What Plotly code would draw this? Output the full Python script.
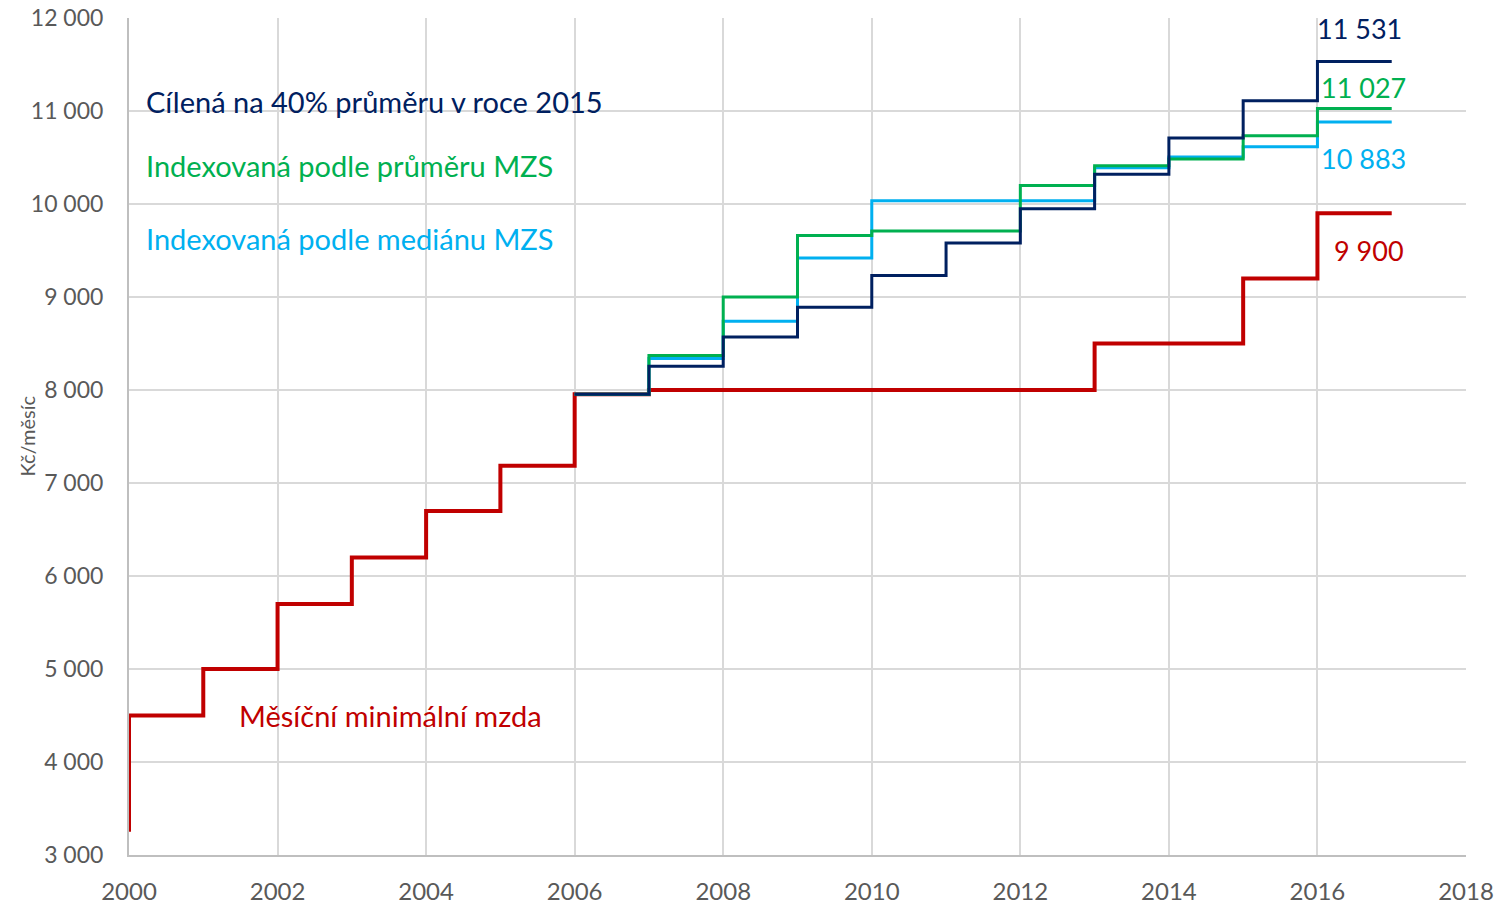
import plotly.graph_objects as go

# Data
years_min = [2000, 2000, 2001, 2002, 2003, 2004, 2005, 2006, 2007, 2008, 2009, 2010,
             2011, 2012, 2013, 2014, 2015, 2016, 2017]
min_wage = [3250, 4500, 5000, 5700, 6200, 6700, 7185, 7955, 8000, 8000, 8000, 8000,
            8000, 8000, 8500, 8500, 9200, 9900, 9900]

years_alt = [2006, 2007, 2008, 2009, 2010, 2011, 2012, 2013, 2014, 2015, 2016, 2017]
targeted_40 = [7955, 8255, 8570, 8890, 9230, 9580, 9950, 10320, 10710, 11110, 11531, 11531]
indexed_avg = [7955, 8370, 9000, 9660, 9710, 9710, 10200, 10410, 10485, 10735, 11027, 11027]
indexed_med = [7955, 8340, 8740, 9420, 10035, 10035, 10035, 10390, 10505, 10615, 10883, 10883]

NAVY = "#002060"
GREEN = "#00B050"
BLUE = "#00B0F0"
RED = "#C00000"
FONT = "Lato"

fig = go.Figure()
fig.add_trace(go.Scatter(x=years_min, y=min_wage, mode="lines", line=dict(color=RED, width=4, shape="hv"),
                         name="Měsíční minimální mzda"))
fig.add_trace(go.Scatter(x=years_alt, y=indexed_med, mode="lines", line=dict(color=BLUE, width=3, shape="hv"),
                         name="Indexovaná podle mediánu MZS"))
fig.add_trace(go.Scatter(x=years_alt, y=indexed_avg, mode="lines", line=dict(color=GREEN, width=3, shape="hv"),
                         name="Indexovaná podle průměru MZS"))
fig.add_trace(go.Scatter(x=years_alt, y=targeted_40, mode="lines", line=dict(color=NAVY, width=3, shape="hv"),
                         name="Cílená na 40% průměru v roce 2015"))

def ann(x, y, text, color, anchor="left", size=29):
    fig.add_annotation(x=x, y=y, xref="x", yref="y", text=text, showarrow=False,
                       xanchor=anchor, yanchor="middle", font=dict(family=FONT, size=size, color=color))

ann(2000.20, 11097, "Cílená na 40% průměru v roce 2015", NAVY)
ann(2000.20, 10409, "Indexovaná podle průměru MZS", GREEN)
ann(2000.20, 9624, "Indexovaná podle mediánu MZS", BLUE)
ann(2001.46, 4495, "Měsíční minimální mzda", RED)

ann(2016.57, 11882, "11 531", NAVY, anchor="center", size=27)
ann(2016.62, 11258, "11 027", GREEN, anchor="center", size=27)
ann(2016.62, 10484, "10 883", BLUE, anchor="center", size=27)
ann(2016.70, 9505, "9 900", RED, anchor="center", size=27)

fig.add_annotation(xref="paper", yref="paper", x=(26 - 129) / 1337, y=0.5, text="Kč/měsíc",
                   textangle=-90, showarrow=False, xanchor="center", yanchor="middle",
                   font=dict(family=FONT, size=20, color="#595959"))

fig.update_layout(
    width=1507, height=906,
    margin=dict(l=129, r=41, t=18, b=51, autoexpand=False),
    plot_bgcolor="white", paper_bgcolor="white",
    showlegend=False,
    separators=". ",
    font=dict(family=FONT, color="#595959"),
)
fig.update_xaxes(range=[2000, 2018], dtick=2, tick0=2000, showgrid=True, gridcolor="#d9d9d9", gridwidth=2,
                 showline=True, linecolor="#bfbfbf", linewidth=2, zeroline=False, automargin=False,
                 ticklabeloverflow="allow",
                 tickfont=dict(size=24, color="#595959"), ticks="", ticklabelstandoff=14)
fig.update_yaxes(range=[3000, 12000], dtick=1000, tick0=3000, showgrid=True, gridcolor="#d9d9d9", gridwidth=2,
                 showline=True, linecolor="#bfbfbf", linewidth=2, zeroline=False, tickformat=",d",
                 automargin=False, ticklabeloverflow="allow",
                 tickfont=dict(size=23, color="#595959"), ticks="", ticklabelstandoff=19)

fig.write_html("out.html", config={"displayModeBar": False},
               post_script="document.body.style.margin='0';document.body.style.overflow='hidden';")
